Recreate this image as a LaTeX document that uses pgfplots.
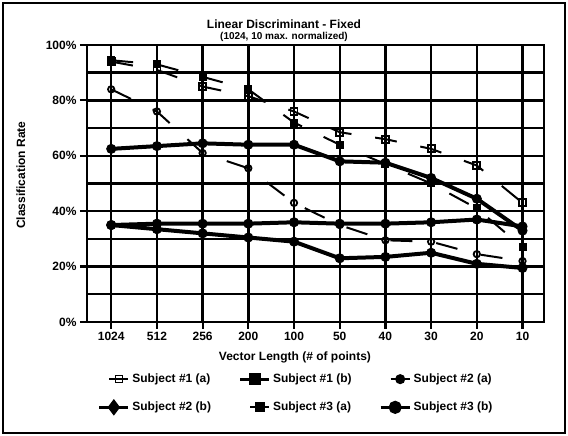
\documentclass[border=0pt]{standalone}
\usepackage{fontspec}
\setmainfont{Liberation Sans}
\usepackage{pgfplots}
\usepackage{pgfplotstable}
\pgfplotsset{compat=1.18}

% classification rate (%) per vector length; idx 0..9 = 1024,512,256,200,100,50,40,30,20,10
\pgfplotstableread{
idx s1a  s1b  s2a  s2b  s3a  s3b
0   94   62.5 84   35   94.5 35
1   91   63.5 76   35.5 93   33.5
2   85   64.5 61   35.5 88.5 32
3   81.5 64   55.5 35.5 84   30.5
4   76   64   43   36   72   29
5   68.5 58   35   35.5 64   23
6   66   57.5 29.5 35.5 57   23.5
7   62.5 52   29   36   50   25
8   56.5 44.5 24.5 37   41   21
9   43   33   22   34.5 27   19.5
}\ratedata

\pgfplotsset{
  legshort/.style={legend image code/.code={
    \path[draw=none,fill=none] (0pt,-5pt) rectangle (34pt,5pt);
    \draw[solid,line width=2pt] (13pt,0pt) -- (32pt,0pt);
    \draw[solid,#1] plot coordinates {(22.5pt,0pt)};}},
  leglong/.style={legend image code/.code={
    \path[draw=none,fill=none] (0pt,-5pt) rectangle (34pt,5pt);
    \draw[solid,line width=3pt] (3pt,0pt) -- (32pt,0pt);
    \draw[solid,#1] plot coordinates {(17.5pt,0pt)};}},
  dashser/.style={black, line width=2pt, dash pattern=on 22pt off 24pt},
  solidser/.style={black, line width=4pt, mark=*, mark size=4.5pt,
    mark options={solid, fill=black, line width=1pt}},
}

\begin{document}
\begin{tikzpicture}[x=1pt,y=1pt]
\useasboundingbox (0,0) rectangle (568,436);
\draw[line width=2.2pt] (3,3) rectangle (565,433);
\node[font=\bfseries\fontsize{12}{14}\selectfont] at (284,412) {Linear Discriminant - Fixed};
\node[font=\bfseries\fontsize{10}{12}\selectfont] at (284,399) {(1024, 10 max. normalized)};
\begin{axis}[
  at={(87pt,114pt)}, anchor=south west,
  scale only axis, width=457pt, height=277pt,
  xmin=-0.53, xmax=9.47, ymin=0, ymax=100,
  axis line style={line width=2.6pt},
  xtick={0,...,9},
  xticklabels={1024,512,256,200,100,50,40,30,20,10},
  ytick={0,20,40,60,80,100},
  yticklabels={0\%,20\%,40\%,60\%,80\%,100\%},
  xmajorgrids, ymajorgrids,
  major grid style={black,line width=2.4pt},
  tick align=outside, major tick length=7pt,
  major tick style={black,line width=2.2pt},
  xtick pos=bottom, ytick pos=left,
  tick label style={font=\bfseries\fontsize{12}{14}\selectfont},
  xlabel={Vector Length (\# of points)},
  ylabel={Classification Rate},
  label style={font=\bfseries\fontsize{12}{14}\selectfont},
  xlabel style={at={(axis description cs:0.455,-0.128)}, anchor=center},
  ylabel style={at={(axis description cs:-0.145,0.53)}, anchor=center},
  clip=false,
  legend columns=3,
  legend cell align=left,
  legend style={at={(axis description cs:0.02,-0.18)}, anchor=north west,
    draw=none, fill=none, inner sep=0pt,
    font=\bfseries\fontsize{12}{14}\selectfont,
    row sep=14pt,
    /tikz/every even column/.append style={column sep=24pt}},
]
% intermediate 10% grid lines
\pgfplotsinvokeforeach{10,30,50,70,90}{
  \draw[black,line width=2.4pt] (axis cs:-0.53,#1) -- (axis cs:9.47,#1);
}
\addplot[dashser, mark=square, mark size=3.5pt,
  mark options={solid, fill=white, line width=1.8pt},
  legshort={mark=square, mark size=3.5pt, mark options={fill=white, line width=1.6pt}}]
  table[x=idx,y=s1a] {\ratedata};
\addlegendentry{Subject \#1 (a)}
\addplot[solidser,
  leglong={mark=square*, mark size=4pt, mark options={fill=black}}]
  table[x=idx,y=s1b] {\ratedata};
\addlegendentry{Subject \#1 (b)}
\addplot[dashser, mark=o, mark size=3.2pt,
  mark options={solid, fill=white, line width=1.8pt},
  legshort={mark=*, mark size=4pt, mark options={fill=black}}]
  table[x=idx,y=s2a] {\ratedata};
\addlegendentry{Subject \#2 (a)}
\addplot[solidser,
  leglong={mark=diamond*, mark size=5pt, mark options={fill=black}}]
  table[x=idx,y=s2b] {\ratedata};
\addlegendentry{Subject \#2 (b)}
\addplot[dashser, mark=square*, mark size=3.5pt,
  mark options={solid, fill=black, line width=1pt},
  legshort={mark=square*, mark size=4pt, mark options={fill=black}}]
  table[x=idx,y=s3a] {\ratedata};
\addlegendentry{Subject \#3 (a)}
\addplot[solidser,
  leglong={mark=*, mark size=4.5pt, mark options={fill=black}}]
  table[x=idx,y=s3b] {\ratedata};
\addlegendentry{Subject \#3 (b)}
\end{axis}
\end{tikzpicture}
\end{document}
